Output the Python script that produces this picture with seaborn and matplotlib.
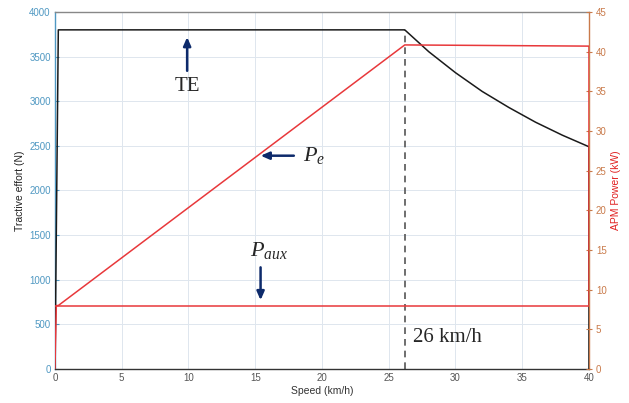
import matplotlib
matplotlib.use("Agg")
import matplotlib.pyplot as plt
import seaborn as sns
import pandas as pd

# Tractive effort envelope (N) vs speed (km/h)
te_speed = [0.0, 0.25, 26.2, 28, 30, 32, 34, 36, 38, 40, 40]
te_force = [0, 3800, 3800, 3555, 3320, 3110, 2930, 2765, 2620, 2490, 0]

# Electrical traction power (kW)
pe_speed = [0.0, 0.1, 0.25, 26.2, 40, 40]
pe_power = [0, 8, 8, 40.85, 40.7, 8]

# Auxiliary power (kW)
aux_speed = [0.0, 40]
aux_power = [8, 8]

base_speed = 26.2

sns.set_style("white")
plt.rcParams["font.family"] = ["Liberation Sans", "DejaVu Sans"]
plt.rcParams["mathtext.fontset"] = "custom"
plt.rcParams["mathtext.rm"] = "Liberation Serif"
plt.rcParams["mathtext.it"] = "Liberation Serif:italic"

fig = plt.figure(figsize=(6.29, 4.03), dpi=100)
ax = fig.add_axes([0.0874, 0.0844, 0.8490, 0.8858])
ax2 = ax.twinx()

left_col = "#4f98c2"
right_col = "#c97a4a"
navy = "#0d2a6b"

ax.grid(True, color="#dfe6ee", linewidth=0.7)
ax.set_axisbelow(True)

df_te = pd.DataFrame({"speed": te_speed, "force": te_force})
sns.lineplot(data=df_te, x="speed", y="force", ax=ax, color="#1a1a1a",
             linewidth=1.1, sort=False, estimator=None, zorder=3)

ax.plot([base_speed, base_speed], [0, 3800], color="#555555",
        linestyle=(0, (4, 3)), linewidth=1.2)

df_pe = pd.DataFrame({"speed": pe_speed, "power": pe_power})
df_aux = pd.DataFrame({"speed": aux_speed, "power": aux_power})
sns.lineplot(data=df_aux, x="speed", y="power", ax=ax2, color="#e8383b",
             linewidth=1.1, sort=False, estimator=None)
sns.lineplot(data=df_pe, x="speed", y="power", ax=ax2, color="#e8383b",
             linewidth=1.1, sort=False, estimator=None)

ax.set_xlim(0, 40)
ax.set_ylim(0, 4000)
ax2.set_ylim(0, 45)
ax.set_xticks(range(0, 41, 5))
ax.set_yticks(range(0, 4001, 500))
ax2.set_yticks(range(0, 46, 5))

ax.set_xlabel("Speed (km/h)", fontsize=7.5, color="#333333", labelpad=2)
ax.set_ylabel("Tractive effort (N)", fontsize=7.5, color="#222222", labelpad=3)
ax2.set_ylabel("APM Power (kW)", fontsize=7.5, color="#e02020", labelpad=3)

ax.tick_params(axis="x", direction="in", length=3, labelsize=7,
               labelcolor="#555555", color="#333333", pad=3)
ax.tick_params(axis="y", direction="in", length=3, labelsize=7,
               labelcolor=left_col, color=left_col, pad=3)
ax2.tick_params(axis="y", direction="inout", length=4, labelsize=7,
                labelcolor=right_col, color=right_col, pad=3)

ax.spines["top"].set_color("#888888")
ax.spines["bottom"].set_color("#333333")
ax.spines["left"].set_color(left_col)
ax.spines["right"].set_color(right_col)
for s in ax.spines.values():
    s.set_linewidth(1.0)
for s in ax2.spines.values():
    s.set_visible(False)

serif = ["Liberation Serif", "DejaVu Serif"]
arrow = dict(arrowstyle="-|>,head_length=0.5,head_width=0.22",
             color=navy, lw=1.8)

# TE annotation
ax.annotate("", xy=(9.9, 3750), xytext=(9.9, 3310), arrowprops=arrow)
ax.text(9.9, 3160, "TE", fontsize=15, family=serif, ha="center", va="center")

# Pe annotation
ax.annotate("", xy=(15.2, 2390), xytext=(18.1, 2390), arrowprops=arrow)
ax.text(18.6, 2390, r"$P_{e}$", fontsize=16, ha="left", va="center")

# Paux annotation
ax.annotate("", xy=(15.4, 740), xytext=(15.4, 1170), arrowprops=arrow)
ax.text(16.0, 1330, r"$P_{aux}$", fontsize=16, ha="center", va="center")

ax.text(26.8, 350, "26 km/h", fontsize=15, family=serif, ha="left",
        va="center")

fig.savefig("out.png", dpi=100)
